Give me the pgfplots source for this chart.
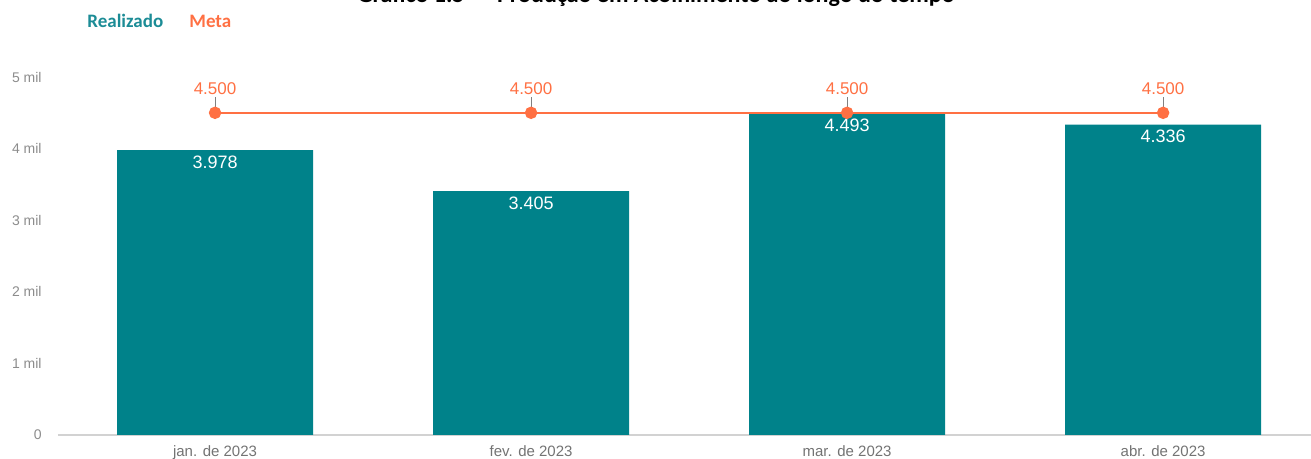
\documentclass[border=0pt]{standalone}
\usepackage{pgfplots}
\pgfplotsset{compat=1.18}
\usepackage{fontspec}
\setmainfont{Liberation Sans}
\newfontfamily\carlito{Carlito}
\definecolor{barteal}{RGB}{0,130,138}
\definecolor{legteal}{RGB}{28,140,150}
\definecolor{meta}{RGB}{255,112,67}
\definecolor{ticktxt}{RGB}{140,140,140}

\begin{document}
\begin{tikzpicture}
\begin{axis}[
    at={(0,0)}, anchor=south west,
    scale only axis,
    width=626.5pt, height=179pt,
    xmin=-0.497, xmax=3.468,
    ymin=0, ymax=5000,
    axis x line*=bottom, axis y line*=left,
    x axis line style={draw=gray!35, line width=0.6pt},
    y axis line style={draw=none},
    major tick length=0pt,
    xtick={0,1,2,3},
    xticklabels={jan. de 2023, fev. de 2023, mar. de 2023, abr. de 2023},
    ytick={0,1000,2000,3000,4000,5000},
    yticklabels={0, 1 mil, 2 mil, 3 mil, 4 mil, 5 mil},
    xticklabel style={font=\fontsize{7.5}{9}\selectfont, text=gray!90!black, inner sep=0pt, yshift=-5pt, anchor=north},
    yticklabel style={font=\fontsize{7}{8}\selectfont, text=ticktxt, inner sep=0pt, xshift=-8pt, anchor=east},
    clip=false,
]
% Realizado
\addplot[ybar, bar width=98pt, fill=barteal, draw=none,
    nodes near coords,
    nodes near coords style={font=\fontsize{9}{10}\selectfont, text=white, anchor=base, inner sep=0pt, yshift=-9pt},
    point meta=explicit symbolic]
  coordinates {
    (0,3978) [3.978]
    (1,3405) [3.405]
    (2,4493) [4.493]
    (3,4336) [4.336]
  };
% connectors to Meta labels
\addplot[draw=none, forget plot,
    error bars/.cd, y dir=plus, y explicit,
    error mark=none, error bar style={draw=gray, line width=0.4pt}]
  coordinates {
    (0,4500) +- (0,220)
    (1,4500) +- (0,220)
    (2,4500) +- (0,220)
    (3,4500) +- (0,220)
  };
% Meta
\addplot[sharp plot, draw=meta, line width=1pt, mark=*,
    mark options={fill=meta, draw=meta}, mark size=2.6pt,
    nodes near coords,
    nodes near coords style={font=\fontsize{8.5}{10}\selectfont, text=meta, anchor=base, inner sep=0pt, yshift=9pt},
    point meta=explicit symbolic]
  coordinates {
    (0,4500) [4.500]
    (1,4500) [4.500]
    (2,4500) [4.500]
    (3,4500) [4.500]
  };
\end{axis}
\node[anchor=base, inner sep=0pt, font=\carlito\bfseries\fontsize{12}{14}\selectfont] at (299pt,216pt) {Gráfico 1.5 — Produção em Acolhimento ao longo do tempo};
\node[anchor=base west, inner sep=0pt, text=legteal, font=\carlito\bfseries\fontsize{9.5}{11}\selectfont] at (14.5pt,203.5pt) {Realizado};
\node[anchor=base west, inner sep=0pt, text=meta, font=\carlito\bfseries\fontsize{9.5}{11}\selectfont] at (65.5pt,203.5pt) {Meta};
\pgfresetboundingbox
\useasboundingbox (-29pt,-12pt) rectangle (626.5pt,217.5pt);
\end{tikzpicture}
\end{document}
